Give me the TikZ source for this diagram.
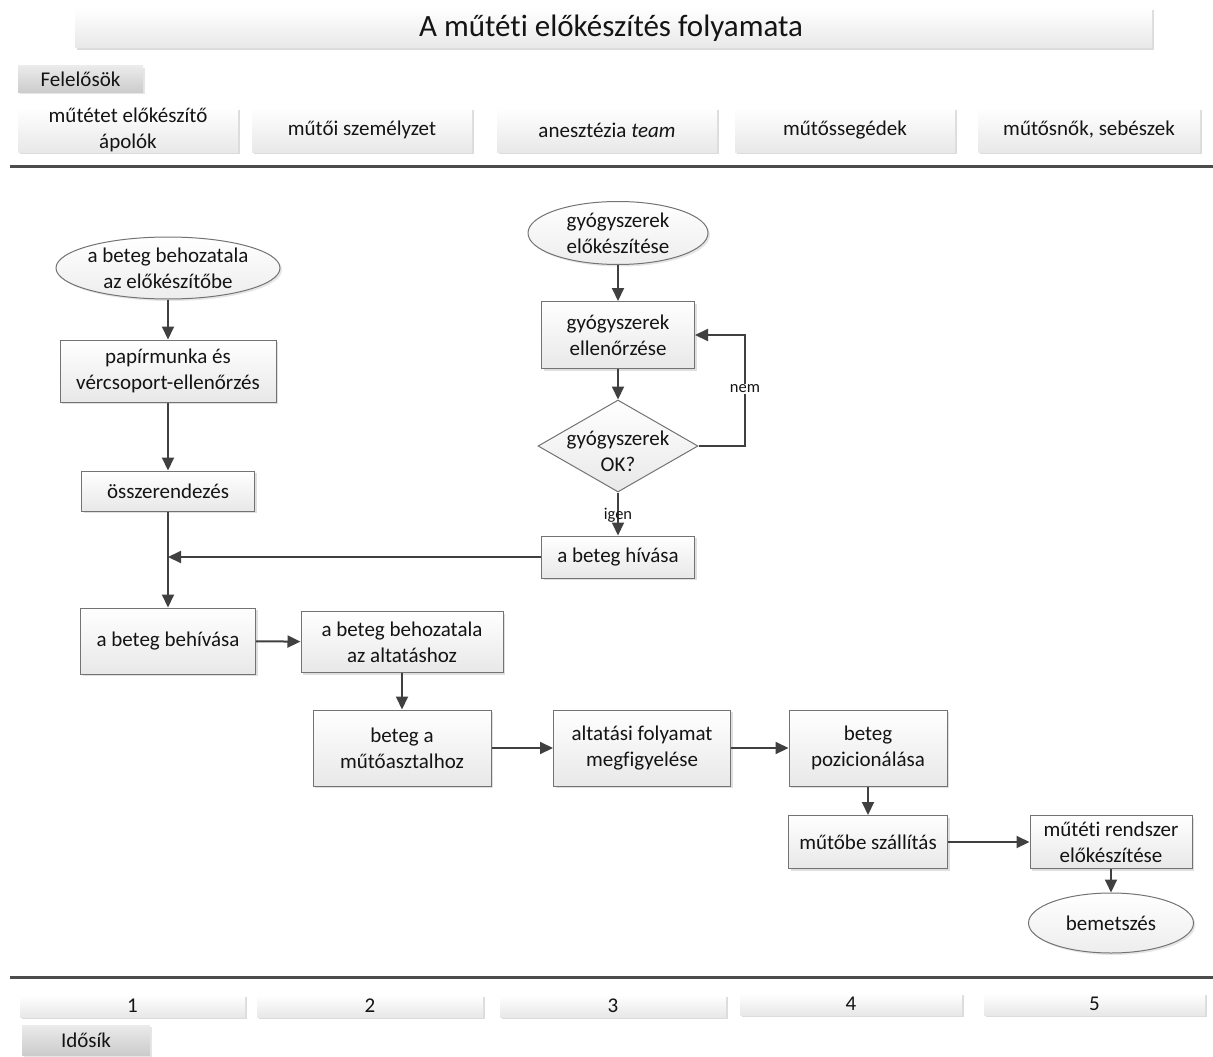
\documentclass[tikz,border=0pt]{standalone}
\usepackage{fontspec}
\setmainfont{Carlito}[Ligatures={NoCommon,NoContextual},Contextuals={NoAlternate}]
\usetikzlibrary{shapes.geometric,arrows.meta,shadows,calc}

\tikzset{
  tx/.style={font=\fontsize{21}{26}\selectfont, align=center, text=black!92},
  small/.style={font=\fontsize{16.5}{19}\selectfont, text=black!92},
  bar/.style={inner sep=0pt, top color=white, bottom color=black!9,
    drop shadow={opacity=0.28, shadow xshift=2pt, shadow yshift=-2pt}},
  tag/.style={inner sep=0pt, top color=black!8, bottom color=black!20,
    drop shadow={opacity=0.2, shadow xshift=2pt, shadow yshift=-2pt}},
  procbox/.style={tx, draw=black!55, line width=1pt, inner sep=0pt,
    top color=white, bottom color=black!9,
    drop shadow={opacity=0.25, shadow xshift=2pt, shadow yshift=-2pt}},
  termshape/.style={ellipse, draw=black!55, line width=1pt, inner sep=0pt,
    top color=white, bottom color=black!7,
    drop shadow={opacity=0.2, shadow xshift=2pt, shadow yshift=-2pt}},
  decshape/.style={diamond, draw=black!55, line width=1pt, inner sep=0pt,
    top color=white, bottom color=black!9},
  flow/.style={draw=black!75, line width=2pt,
    -{Triangle[length=13pt,width=12pt]}},
  sep/.style={draw=black!70, line width=3pt}
}

\begin{document}
\begin{tikzpicture}[x=1pt,y=-1pt]
\useasboundingbox (0,0) rectangle (1213,1057);

% title
\node[bar, minimum width=1077pt, minimum height=40pt] (title) at (613.5,28) {};
\node[font=\fontsize{31}{35}\selectfont, text=black!92] (titletext) at (611,28) {A műtéti előkészítés folyamata};

% responsibles header
\node[tag, tx, minimum width=125pt, minimum height=26pt] (resp) at (80.5,79) {Felelősök};
\node[bar, tx, minimum width=220pt, minimum height=44pt] (r1) at (128,130) {műtétet előkészítő\\ápolók};
\node[bar, tx, minimum width=220pt, minimum height=44pt] (r2) at (362,130) {műtői személyzet};
\node[bar, tx, minimum width=220pt, minimum height=44pt] (r3) at (607,130) {anesztézia \textit{team}};
\node[bar, tx, minimum width=220pt, minimum height=44pt] (r4) at (845,130) {műtőssegédek};
\node[bar, tx, minimum width=222pt, minimum height=44pt] (r5) at (1089,130) {műtősnők, sebészek};

\coordinate (s1l) at (10,166);
\coordinate (s1r) at (1213,166);
\draw[sep] (s1l) -- (s1r);
\coordinate (s2l) at (10,977);
\coordinate (s2r) at (1213,977);
\draw[sep] (s2l) -- (s2r);

% time axis
\node[bar, tx, minimum width=225pt, minimum height=22pt] (t1) at (132.5,1006) {1};
\node[bar, tx, minimum width=226pt, minimum height=22pt] (t2) at (370,1006) {2};
\node[bar, tx, minimum width=226pt, minimum height=22pt] (t3) at (613,1006) {3};
\node[bar, tx, minimum width=222pt, minimum height=22pt] (t4) at (851,1004) {4};
\node[bar, tx, minimum width=221pt, minimum height=22pt] (t5) at (1094.5,1004) {5};
\node[tag, tx, minimum width=128pt, minimum height=30pt] (time) at (86,1040) {Idősík};

% left column
\node[termshape, minimum width=224pt, minimum height=62pt] (e1) at (168,268) {};
\node[tx] (e1t) at (e1) {a beteg behozatala\\az előkészítőbe};
\node[procbox, minimum width=216pt, minimum height=62pt] (b1) at (168,371) {papírmunka és\\vércsoport-ellenőrzés};
\node[procbox, minimum width=173pt, minimum height=40pt] (b2) at (168,491) {összerendezés};
\node[procbox, minimum width=175pt, minimum height=66pt] (b5) at (168,641) {a beteg behívása};

% medication branch
\node[termshape, minimum width=180pt, minimum height=63pt] (e2) at (618,233) {};
\node[tx] (e2t) at (e2) {gyógyszerek\\előkészítése};
\node[procbox, minimum width=153pt, minimum height=67pt] (b3) at (618,335) {gyógyszerek\\ellenőrzése};
\node[decshape, minimum width=160pt, minimum height=92pt] (d1) at (618,446) {};
\node[tx] (d1t) at (618,451) {gyógyszerek\\OK?};
\node[procbox, minimum width=153pt, minimum height=42pt] (b4) at (618,557) {a beteg hívása};

% main sequence
\node[procbox, minimum width=202pt, minimum height=61pt] (b6) at (402,642) {a beteg behozatala\\az altatáshoz};
\node[procbox, minimum width=178pt, minimum height=76pt] (b7) at (402,748) {beteg a\\műtőasztalhoz};
\node[procbox, minimum width=177pt, minimum height=76pt] (b8) at (642,748) {altatási folyamat\\megfigyelése};
\node[procbox, minimum width=158pt, minimum height=76pt] (b9) at (868,748) {beteg\\pozicionálása};
\node[procbox, minimum width=159pt, minimum height=53pt] (b10) at (868,842) {műtőbe szállítás};
\node[procbox, minimum width=162pt, minimum height=53pt] (b11) at (1111,842) {műtéti rendszer\\előkészítése};
\node[termshape, minimum width=165pt, minimum height=60pt] (e3) at (1111,923) {};
\node[tx] (e3t) at (e3) {bemetszés};

% connectors
\draw[flow] (e1) -- (b1);
\draw[flow] (b1) -- (b2);
\draw[flow] (b2) -- (b5);
\coordinate (join) at (b2.south |- b4.west);
\draw[flow] (b4.west) -- (join);
\draw[flow] (b5) -- (b6);
\draw[flow] (b6) -- (b7);
\draw[flow] (b7) -- (b8);
\draw[flow] (b8) -- (b9);
\draw[flow] (b9) -- (b10);
\draw[flow] (b10) -- (b11);
\draw[flow] (b11) -- (e3);

\draw[flow] (e2) -- (b3);
\draw[flow] (b3) -- (d1);
\draw[flow] (d1.south) -- (b4.north);
\node[small] (yes) at (618,515) {igen};
\coordinate (loop) at (745,446);
\draw[flow] (d1.east) -- (loop) |- (b3.east);
\node[small, fill=white, inner sep=1pt] (no) at (745,389) {nem};
\end{tikzpicture}
\end{document}
